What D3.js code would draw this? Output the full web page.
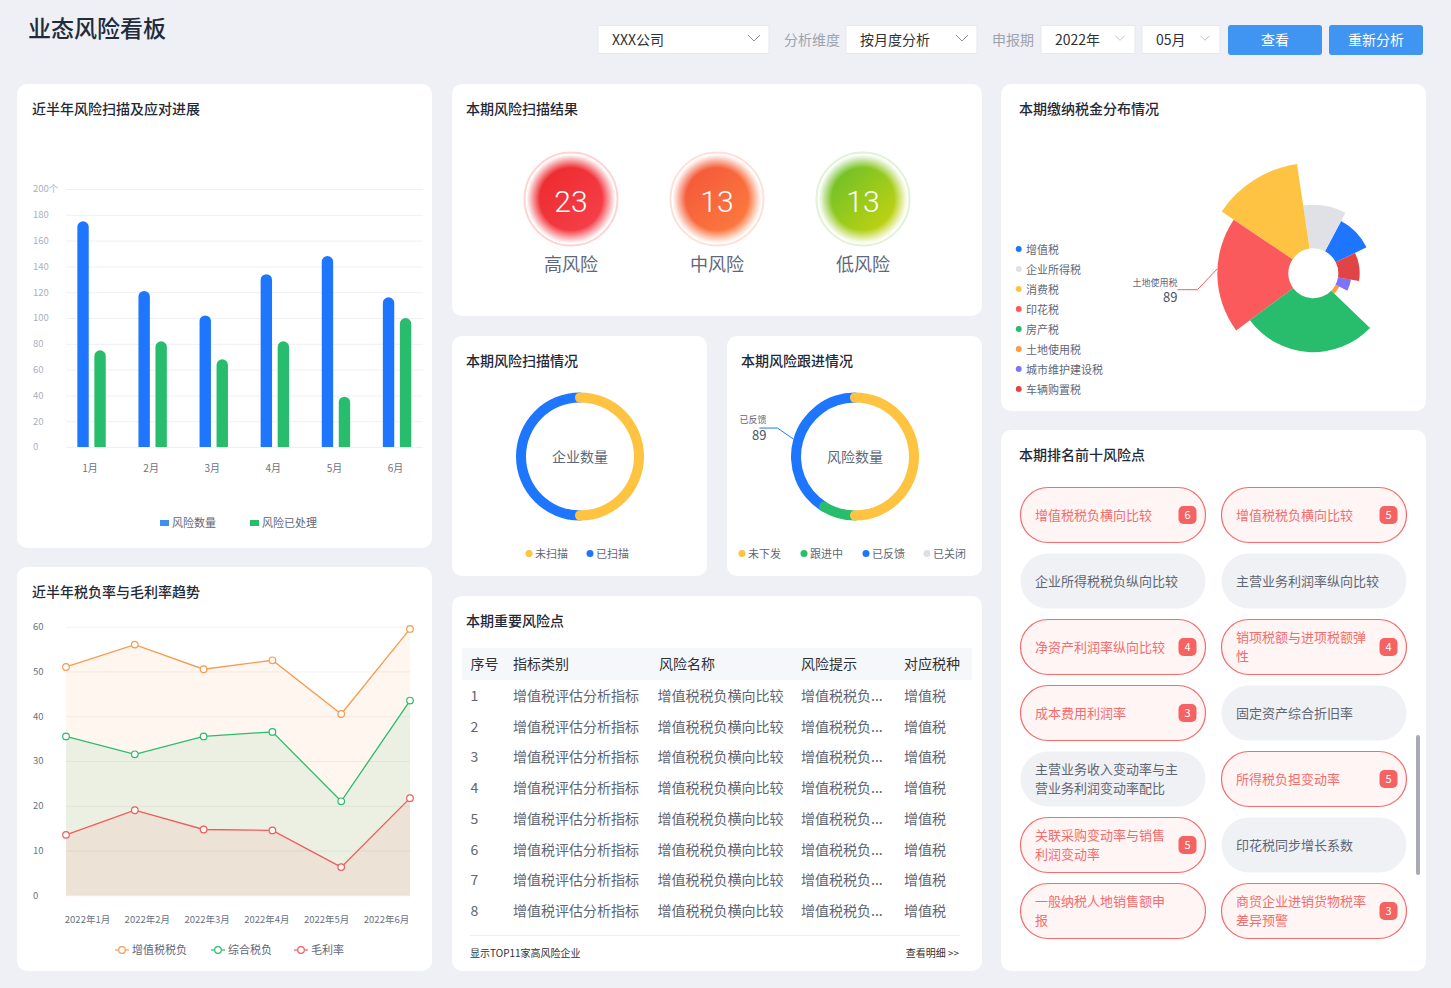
<!DOCTYPE html>
<html>
<head>
<meta charset="utf-8">
<script src="https://cdn.jsdelivr.net/npm/d3@7"></script>
<style>
body { margin: 0; background: #eef0f5; }
svg text { font-family: "Noto Sans CJK SC", "Noto Sans", sans-serif; }
</style>
</head>
<body>
<script>
// ---- 数据 ----
var months = ["1月", "2月", "3月", "4月", "5月", "6月"];
var riskCount = [175, 121, 102, 134, 148, 116];
var riskDone = [75, 82, 68, 82, 39, 100];
var barTicks = [0, 20, 40, 60, 80, 100, 120, 140, 160, 180, 200];

var levelNames = ["高风险", "中风险", "低风险"];
var levelCounts = [23, 13, 13];

var scanNames = ["未扫描", "已扫描"];
var scanValues = [50, 50];

var followNames = ["未下发", "跟进中", "已反馈", "已关闭"];
var followValues = [108, 19, 89, 0];

var taxNames = ["增值税", "企业所得税", "消费税", "印花税", "房产税", "土地使用税", "城市维护建设税", "车辆购置税"];
var taxShare = [36, 36.5, 47.5, 70.5, 99.5, 17, 17.5, 35.5];
var taxAmount = [400, 510, 1000, 830, 630, 50, 155, 250];

var trendMonths = ["2022年1月", "2022年2月", "2022年3月", "2022年4月", "2022年5月", "2022年6月"];
var vatBurden = [51, 56, 50.5, 52.5, 40.5, 59.5];
var totalBurden = [35.5, 31.5, 35.5, 36.5, 21, 43.5];
var grossMargin = [13.5, 19, 14.7, 14.5, 6.3, 21.7];
var trendTicks = [0, 10, 20, 30, 40, 50, 60];

var tableHead = ["序号", "指标类别", "风险名称", "风险提示", "对应税种"];
var tableRows = [
    ["1", "增值税评估分析指标", "增值税税负横向比较", "增值税税负...", "增值税"],
    ["2", "增值税评估分析指标", "增值税税负横向比较", "增值税税负...", "增值税"],
    ["3", "增值税评估分析指标", "增值税税负横向比较", "增值税税负...", "增值税"],
    ["4", "增值税评估分析指标", "增值税税负横向比较", "增值税税负...", "增值税"],
    ["5", "增值税评估分析指标", "增值税税负横向比较", "增值税税负...", "增值税"],
    ["6", "增值税评估分析指标", "增值税税负横向比较", "增值税税负...", "增值税"],
    ["7", "增值税评估分析指标", "增值税税负横向比较", "增值税税负...", "增值税"],
    ["8", "增值税评估分析指标", "增值税税负横向比较", "增值税税负...", "增值税"]
];

var topNames = ["增值税税负横向比较", "增值税税负横向比较", "企业所得税税负纵向比较", "主营业务利润率纵向比较",
    "净资产利润率纵向比较", "销项税额与进项税额弹性", "成本费用利润率", "固定资产综合折旧率",
    "主营业务收入变动率与主营业务利润变动率配比", "所得税负担变动率", "关联采购变动率与销售利润变动率", "印花税同步增长系数",
    "一般纳税人地销售额申报", "商贸企业进销货物税率差异预警"];
var topCounts = [6, 5, null, null, 4, 4, 3, null, null, 5, 5, null, null, 3];
var topHot = [1, 1, 0, 0, 1, 1, 1, 0, 0, 1, 1, 0, 1, 1];

// ---- 画布 ----
var svg = d3.select("body").append("svg")
    .attr("width", 1451)
    .attr("height", 988);
var defs = svg.append("defs");

svg.append("rect").attr("width", 1451).attr("height", 988).attr("fill", "#eef0f5");

// 标题和筛选栏
svg.append("text").attr("x", 28).attr("y", 29).attr("dominant-baseline", "central")
    .attr("font-size", 23).attr("font-weight", 500).attr("fill", "#222b3a").text("业态风险看板");

var selects = [
    {x: 598, w: 171, t: "XXX公司", big: true},
    {x: 846, w: 131, t: "按月度分析", big: true},
    {x: 1041, w: 94, t: "2022年", big: false},
    {x: 1142, w: 78, t: "05月", big: false}
];
selects.forEach(function (s) {
    svg.append("rect").attr("x", s.x).attr("y", 25.5).attr("width", s.w).attr("height", 28)
        .attr("fill", "#fff").attr("stroke", "#e4e7ed");
    svg.append("text").attr("x", s.x + 14).attr("y", 40).attr("dominant-baseline", "central")
        .attr("font-size", 14).attr("fill", "#303133").text(s.t);
    var cx = s.x + s.w - 15, k = s.big ? 6 : 4.5;
    svg.append("path").attr("d", "M" + (cx - k) + "," + (38 - k / 2) + "L" + cx + "," + (38 + k / 2) + "L" + (cx + k) + "," + (38 - k / 2))
        .attr("fill", "none").attr("stroke", s.big ? "#909399" : "#c0c4cc").attr("stroke-width", 1);
});
[{x: 784, t: "分析维度"}, {x: 992, t: "申报期"}].forEach(function (l) {
    svg.append("text").attr("x", l.x).attr("y", 40).attr("dominant-baseline", "central")
        .attr("font-size", 14).attr("fill", "#9da3ad").text(l.t);
});
[{x: 1228, t: "查看"}, {x: 1329, t: "重新分析"}].forEach(function (b) {
    svg.append("rect").attr("x", b.x).attr("y", 25).attr("width", 94).attr("height", 30).attr("rx", 3)
        .attr("fill", "#4095f2");
    svg.append("text").attr("x", b.x + 47).attr("y", 40).attr("dominant-baseline", "central")
        .attr("text-anchor", "middle").attr("font-size", 14).attr("fill", "#fff").text(b.t);
});

// 面板
var panels = [
    {x: 17, y: 84, w: 415, h: 464, tx: 15, t: "近半年风险扫描及应对进展"},
    {x: 452, y: 84, w: 530, h: 232, tx: 14, t: "本期风险扫描结果"},
    {x: 452, y: 336, w: 255, h: 240, tx: 14, t: "本期风险扫描情况"},
    {x: 727, y: 336, w: 255, h: 240, tx: 14, t: "本期风险跟进情况"},
    {x: 452, y: 596, w: 530, h: 375, tx: 14, t: "本期重要风险点"},
    {x: 1001, y: 84, w: 425, h: 327, tx: 18, t: "本期缴纳税金分布情况"},
    {x: 1001, y: 430, w: 425, h: 541, tx: 18, t: "本期排名前十风险点"},
    {x: 17, y: 567, w: 415, h: 404, tx: 15, t: "近半年税负率与毛利率趋势"}
];
panels.forEach(function (p) {
    svg.append("rect").attr("x", p.x).attr("y", p.y).attr("width", p.w).attr("height", p.h)
        .attr("rx", 10).attr("fill", "#fff");
    svg.append("text").attr("x", p.x + p.tx).attr("y", p.y + 25).attr("dominant-baseline", "central")
        .attr("font-size", 14).attr("font-weight", 500).attr("fill", "#1f2937").text(p.t);
});

// ---- 柱状图 ----
var bar = svg.append("g");
var x0 = d3.scaleBand().domain(months).range([61, 427.6]);
var x1 = d3.scaleBand().domain(["count", "done"]).range([-14.2, 14.2]).paddingInner(0.33);
var yBar = d3.scaleLinear().domain([0, 200]).range([447, 189]);

bar.selectAll(".grid").data(barTicks).enter().append("line")
    .attr("x1", 66).attr("x2", 423)
    .attr("y1", function (d) { return yBar(d) + 0.5; })
    .attr("y2", function (d) { return yBar(d) + 0.5; })
    .attr("stroke", "#eef0f4");
bar.selectAll(".ylab").data(barTicks).enter().append("text")
    .attr("x", 33).attr("y", function (d) { return yBar(d); })
    .attr("dominant-baseline", "central").attr("font-size", 9.5).attr("fill", "#a9b0bf")
    .text(function (d) { return d === 200 ? "200个" : d; });
bar.selectAll(".xlab").data(months).enter().append("text")
    .attr("x", function (d) { return x0(d) + x0.bandwidth() / 2 - 1.5; }).attr("y", 468)
    .attr("text-anchor", "middle").attr("dominant-baseline", "central")
    .attr("font-size", 10).attr("fill", "#6b7280").text(function (d) { return d; });

function topRound(x, y, w, h) {
    var r = Math.min(w / 2, h);
    return "M" + x + "," + (y + h) + "V" + (y + r) + "A" + r + "," + r + " 0 0 1 " + (x + w) + "," + (y + r) + "V" + (y + h) + "Z";
}
[{key: "count", vals: riskCount, color: "#1f76fe"}, {key: "done", vals: riskDone, color: "#28bd6d"}].forEach(function (s) {
    bar.selectAll(".b" + s.key).data(months).enter().append("path")
        .attr("d", function (d, i) {
            var bx = x0(d) + x0.bandwidth() / 2 + x1(s.key);
            return topRound(bx, yBar(s.vals[i]), x1.bandwidth(), yBar(0) - yBar(s.vals[i]));
        })
        .attr("fill", s.color);
});
[{x: 160, t: "风险数量", c: "#3f8ff1"}, {x: 250, t: "风险已处理", c: "#28bd6d"}].forEach(function (l) {
    bar.append("rect").attr("x", l.x).attr("y", 520).attr("width", 9).attr("height", 6).attr("fill", l.c);
    bar.append("text").attr("x", l.x + 12).attr("y", 523).attr("dominant-baseline", "central")
        .attr("font-size", 11).attr("fill", "#5f6776").text(l.t);
});

// ---- 风险等级圆 ----
var levelColors = [["#ea2525", "#f84653", "#fdd3d4"], ["#f24f39", "#fe8440", "#fde0d7"], ["#55bb2f", "#dcd80a", "#e1f2d6"]];
var levelX = d3.scalePoint().domain(levelNames).range([571, 863]);
var glow = defs.append("radialGradient").attr("id", "glow");
glow.append("stop").attr("offset", "70%").attr("stop-color", "#fff").attr("stop-opacity", 0);
glow.append("stop").attr("offset", "100%").attr("stop-color", "#fff").attr("stop-opacity", 1);
levelNames.forEach(function (n, i) {
    var lg = defs.append("linearGradient").attr("id", "lv" + i)
        .attr("x1", "0%").attr("y1", "0%").attr("x2", "100%").attr("y2", "100%");
    lg.append("stop").attr("offset", "0%").attr("stop-color", levelColors[i][0]);
    lg.append("stop").attr("offset", "100%").attr("stop-color", levelColors[i][1]);
    var cx = levelX(n);
    svg.append("circle").attr("cx", cx).attr("cy", 199).attr("r", 46.5)
        .attr("fill", "#fff").attr("stroke", levelColors[i][2]).attr("stroke-width", 2);
    svg.append("circle").attr("cx", cx).attr("cy", 199).attr("r", 44).attr("fill", "url(#lv" + i + ")");
    svg.append("circle").attr("cx", cx).attr("cy", 199).attr("r", 44.5).attr("fill", "url(#glow)");
    svg.append("text").attr("class", "num").attr("x", cx).attr("y", 201).attr("text-anchor", "middle").attr("dominant-baseline", "central")
        .attr("font-size", 30).attr("font-weight", 300).style("font-family", "Roboto, 'Noto Sans', sans-serif")
        .attr("fill", "#fff").text(levelCounts[i]);
    svg.append("text").attr("x", cx).attr("y", 264).attr("text-anchor", "middle").attr("dominant-baseline", "central")
        .attr("font-size", 18).attr("fill", "#5e687a").text(n);
});

// ---- 环形图 ----
var ringArc = d3.arc().innerRadius(54).outerRadius(64).cornerRadius(5);
function donut(names, values, colors, cx, cy, center, legendX) {
    var g = svg.append("g").attr("transform", "translate(" + cx + "," + cy + ")");
    var arcs = d3.pie().sort(null).value(function (d) { return d; })(values);
    var cap = 5 / 59;
    g.selectAll("path").data(arcs.filter(function (a) { return a.value > 0; }).reverse()).enter().append("path")
        .attr("d", function (a) { return ringArc({startAngle: a.startAngle - cap, endAngle: a.endAngle + cap}); })
        .attr("fill", function (a) { return colors[a.index]; });
    g.append("text").attr("text-anchor", "middle").attr("dominant-baseline", "central")
        .attr("font-size", 14).attr("fill", "#5e687a").text(center);
    names.forEach(function (n, i) {
        svg.append("circle").attr("cx", legendX[i]).attr("cy", 553.5).attr("r", 3.5).attr("fill", colors[i]);
        svg.append("text").attr("x", legendX[i] + 6).attr("y", 554).attr("dominant-baseline", "central")
            .attr("font-size", 11).attr("fill", "#5f6776").text(n);
    });
    return {g: g, arcs: arcs};
}
donut(scanNames, scanValues, ["#fec340", "#1f76fe"], 580, 456.5, "企业数量", [529, 590]);
var follow = donut(followNames, followValues, ["#fec340", "#28bd6d", "#1f76fe", "#dcdfe6"], 855, 456.5, "风险数量", [742, 804, 866, 927]);

// 已反馈 标注
var fb = follow.arcs[2];
var fm = (fb.startAngle + fb.endAngle) / 2;
var fp = [64 * Math.sin(fm), -64 * Math.cos(fm)];
var fe = [fp[0] - 16, fp[1] - 11];
follow.g.append("path").attr("d", "M" + fp[0] + "," + fp[1] + "L" + fe[0] + "," + fe[1] + "H" + (fe[0] - 18))
    .attr("fill", "none").attr("stroke", "#1f76fe").attr("stroke-width", 1);
follow.g.append("text").attr("x", fe[0] - 11).attr("y", fe[1] - 8).attr("text-anchor", "end").attr("dominant-baseline", "central")
    .attr("font-size", 9).attr("fill", "#5f6776").text(followNames[2]);
follow.g.append("text").attr("x", fe[0] - 11).attr("y", fe[1] + 7).attr("text-anchor", "end").attr("dominant-baseline", "central")
    .attr("font-size", 13).attr("fill", "#4b5363").text(followValues[2]);

// ---- 南丁格尔玫瑰图 ----
var taxColors = ["#1f76fe", "#dfe1e6", "#fec342", "#fb5a5c", "#28bd6d", "#ff9a47", "#7b73fb", "#e04446"];
var rose = svg.append("g").attr("transform", "translate(1313.3,273.3)");
var deg = Math.PI / 180;
var rosePie = d3.pie().sort(null).value(function (d) { return d; }).startAngle(64 * deg).endAngle(64 * deg - 2 * Math.PI);
var roseR = d3.scaleLinear().domain([0, 1000]).range([25, 110.5]);
var roseArcs = rosePie(taxShare);
rose.selectAll("path").data(roseArcs).enter().append("path")
    .attr("d", function (a, i) {
        return d3.arc().innerRadius(25).outerRadius(roseR(taxAmount[i]))(a);
    })
    .attr("fill", function (a, i) { return taxColors[i]; });
var ra = roseArcs[3];
var rm = (ra.startAngle + ra.endAngle) / 2 + 4 * deg;
var rp = [roseR(taxAmount[3]) * Math.sin(rm), -roseR(taxAmount[3]) * Math.cos(rm)];
var re = [rp[0] - 20, rp[1] + 21];
rose.append("path").attr("d", "M" + rp[0] + "," + rp[1] + "L" + re[0] + "," + re[1] + "H" + (re[0] - 20))
    .attr("fill", "none").attr("stroke", "#fb5a5c").attr("stroke-width", 1);
rose.append("text").attr("x", re[0] - 20).attr("y", re[1] - 7).attr("text-anchor", "end").attr("dominant-baseline", "central")
    .attr("font-size", 9).attr("fill", "#5f6776").text("土地使用税");
rose.append("text").attr("x", re[0] - 20).attr("y", re[1] + 8).attr("text-anchor", "end").attr("dominant-baseline", "central")
    .attr("font-size", 13).attr("fill", "#4b5363").text(89);
taxNames.forEach(function (n, i) {
    svg.append("circle").attr("cx", 1018.7).attr("cy", 249 + i * 20).attr("r", 3).attr("fill", taxColors[i]);
    svg.append("text").attr("x", 1026).attr("y", 249.3 + i * 20).attr("dominant-baseline", "central")
        .attr("font-size", 11).attr("fill", "#5f6776").text(n);
});

// ---- 折线面积图 ----
var line = svg.append("g");
var xLine = d3.scalePoint().domain(trendMonths).range([66, 410]);
var xLab = d3.scalePoint().domain(trendMonths).range([87.5, 386.5]);
var yLine = d3.scaleLinear().domain([0, 60]).range([895.3, 626.7]);
line.selectAll(".grid").data(trendTicks).enter().append("line")
    .attr("x1", 66).attr("x2", 410)
    .attr("y1", function (d) { return yLine(d) + 0.5; })
    .attr("y2", function (d) { return yLine(d) + 0.5; })
    .attr("stroke", function (d) { return d === 0 ? "#fbe6e2" : "#f0f1f4"; });
line.selectAll(".ylab").data(trendTicks).enter().append("text")
    .attr("x", 33).attr("y", function (d) { return yLine(d); })
    .attr("dominant-baseline", "central").attr("font-size", 9.5).attr("fill", "#6b7280")
    .text(function (d) { return d; });
line.selectAll(".xlab").data(trendMonths).enter().append("text")
    .attr("x", function (d) { return xLab(d); }).attr("y", 920)
    .attr("text-anchor", "middle").attr("dominant-baseline", "central")
    .attr("font-size", 9.5).attr("fill", "#6b7280").text(function (d) { return d; });

var series = [
    {name: "增值税税负", vals: vatBurden, color: "#fa9a4f", lx: 115},
    {name: "综合税负", vals: totalBurden, color: "#2bbb6b", lx: 211},
    {name: "毛利率", vals: grossMargin, color: "#f25b5b", lx: 294}
];
var area = d3.area()
    .x(function (d, i) { return xLine(trendMonths[i]); })
    .y0(yLine(0))
    .y1(function (d) { return yLine(d); });
var path = d3.line()
    .x(function (d, i) { return xLine(trendMonths[i]); })
    .y(function (d) { return yLine(d); });
series.forEach(function (s) {
    line.append("path").attr("d", area(s.vals)).attr("fill", s.color).attr("fill-opacity", 0.09);
});
series.forEach(function (s) {
    line.append("path").attr("d", path(s.vals)).attr("fill", "none").attr("stroke", s.color).attr("stroke-width", 1.3);
    line.selectAll(".pt").data(s.vals).enter().append("circle")
        .attr("cx", function (d, i) { return xLine(trendMonths[i]); })
        .attr("cy", function (d) { return yLine(d); })
        .attr("r", 3.3).attr("fill", "#fff").attr("stroke", s.color).attr("stroke-width", 1.2);
    line.append("line").attr("x1", s.lx).attr("x2", s.lx + 14).attr("y1", 950).attr("y2", 950)
        .attr("stroke", s.color).attr("stroke-width", 1.2);
    line.append("circle").attr("cx", s.lx + 7).attr("cy", 950).attr("r", 3.3)
        .attr("fill", "#fff").attr("stroke", s.color).attr("stroke-width", 1.2);
    line.append("text").attr("x", s.lx + 17).attr("y", 950).attr("dominant-baseline", "central")
        .attr("font-size", 11).attr("fill", "#5f6776").text(s.name);
});

// ---- 表格 ----
var colX = [470.5, 513, 657.5, 801, 904];
var rowY = d3.scaleLinear().domain([0, 7]).range([696, 911]);
svg.append("rect").attr("x", 462).attr("y", 648).attr("width", 510).attr("height", 32).attr("fill", "#f5f7fb");
tableHead.forEach(function (h, j) {
    svg.append("text").attr("x", colX[j] + (j === 2 ? 1.5 : 0)).attr("y", 664).attr("dominant-baseline", "central")
        .attr("font-size", 14).attr("fill", "#303133").text(h);
});
tableRows.forEach(function (r, i) {
    r.forEach(function (c, j) {
        svg.append("text").attr("x", colX[j]).attr("y", rowY(i)).attr("dominant-baseline", "central")
            .attr("font-size", 14).attr("fill", "#606672").text(c);
    });
});
svg.append("line").attr("x1", 470).attr("x2", 960).attr("y1", 935.5).attr("y2", 935.5).attr("stroke", "#eef0f3");
svg.append("text").attr("x", 470).attr("y", 953).attr("dominant-baseline", "central")
    .attr("font-size", 10).attr("fill", "#303133").text("显示TOP11家高风险企业");
svg.append("text").attr("x", 959).attr("y", 953).attr("text-anchor", "end").attr("dominant-baseline", "central")
    .attr("font-size", 10).attr("fill", "#303133").text("查看明细 >>");

// ---- 前十风险点 ----
topNames.forEach(function (n, i) {
    var px = i % 2 === 0 ? 1020 : 1221;
    var py = 487 + Math.floor(i / 2) * 66;
    var hot = topHot[i] === 1;
    svg.append("rect").attr("x", px + 0.5).attr("y", py + 0.5).attr("width", 185).attr("height", 55).attr("rx", 27.5)
        .attr("fill", hot ? "#fff5f5" : "#f0f1f5")
        .attr("stroke", hot ? "#f56c6c" : "none").attr("stroke-width", 1.2);
    var per = hot ? 10 : 11;
    var lines = [];
    for (var k = 0; k < n.length; k += per) lines.push(n.slice(k, k + per));
    lines.forEach(function (t, k) {
        svg.append("text").attr("x", px + 15).attr("y", py + 28 + (k - (lines.length - 1) / 2) * 19)
            .attr("dominant-baseline", "central").attr("font-size", 13)
            .attr("fill", hot ? "#f56c6c" : "#5f6672").text(t);
    });
    if (topCounts[i] !== null) {
        svg.append("rect").attr("x", px + 158.5).attr("y", py + 19).attr("width", 18).attr("height", 18).attr("rx", 5)
            .attr("fill", "#f56262");
        svg.append("text").attr("x", px + 167.5).attr("y", py + 28).attr("text-anchor", "middle").attr("dominant-baseline", "central")
            .attr("font-size", 11).attr("fill", "#fff").text(topCounts[i]);
    }
});
svg.append("rect").attr("x", 1416).attr("y", 735).attr("width", 4).attr("height", 140).attr("rx", 2).attr("fill", "#a8abb2");

// 中文字体基线略偏下，整体上提一点（大数字除外）
svg.selectAll("text:not(.num)").attr("dy", "-0.07em");
</script>
</body>
</html>
